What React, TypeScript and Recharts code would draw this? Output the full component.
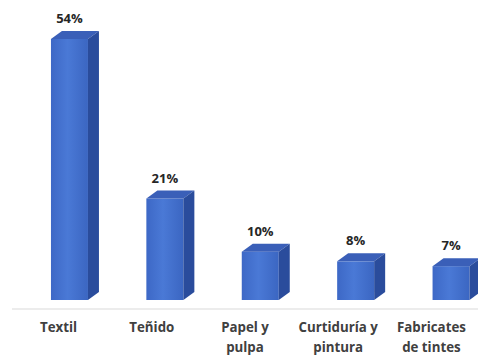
import React from 'react'
import { BarChart, Bar, XAxis, YAxis, LabelList } from 'recharts'

const categories = ['Textil', 'Teñido', 'Papel y\npulpa', 'Curtiduría y\npintura', 'Fabricates\nde tintes']
const shares = [54, 21, 10, 8, 7]

const data = categories.map((name, i) => ({ name, value: shares[i] }))

const FRONT_W = 37
const DEPTH_X = 11
const DEPTH_Y = 8

// bars sit a little to the right of their label, more so further right
const shiftFor = (index: number) => 11 + index * 2.2

function Box3D(props: any) {
  const { x, y, width, height, index } = props
  const cx = x + width / 2 + shiftFor(index)
  const l = cx - FRONT_W / 2
  const r = cx + FRONT_W / 2
  const b = y + height
  return (
    <g>
      <rect x={l} y={y} width={FRONT_W} height={height} fill="url(#frontFace)" />
      <polygon
        points={`${l},${y} ${l + DEPTH_X},${y - DEPTH_Y} ${r + DEPTH_X},${y - DEPTH_Y} ${r},${y}`}
        fill="#3a5fb8"
      />
      <polygon
        points={`${r},${y} ${r + DEPTH_X},${y - DEPTH_Y} ${r + DEPTH_X},${b - DEPTH_Y} ${r},${b}`}
        fill="#2a4c9c"
      />
    </g>
  )
}

function ValueLabel(props: any) {
  const { x, y, width, value, index } = props
  const cx = x + width / 2 + shiftFor(index)
  return (
    <text
      x={cx}
      y={y - 16}
      textAnchor="middle"
      fontSize={13}
      fontWeight={700}
      fill="#262626"
      fontFamily="'Open Sans', sans-serif"
    >
      {`${value}%`}
    </text>
  )
}

function CategoryTick(props: any) {
  const { x, y, payload } = props
  const lines = String(payload.value).split('\n')
  return (
    <text
      x={x}
      y={y + 24}
      textAnchor="middle"
      fontSize={13.3}
      fontWeight={700}
      fill="#404040"
      fontFamily="'Open Sans', sans-serif"
    >
      {lines.map((line, i) => (
        <tspan key={i} x={x} dy={i === 0 ? 0 : 20}>
          {line}
        </tspan>
      ))}
    </text>
  )
}

export default function App() {
  return (
    <div style={{ position: 'absolute', left: 0, top: 0, width: 478, height: 358, background: '#fff' }}>
      <BarChart
        width={478}
        height={358}
        data={data}
        margin={{ top: 10, right: 0, left: 12, bottom: 0 }}
        barCategoryGap="30%"
      >
        <defs>
          <linearGradient id="frontFace" x1="0" y1="0" x2="1" y2="0">
            <stop offset="0%" stopColor="#3d68c6" />
            <stop offset="45%" stopColor="#4a79d6" />
            <stop offset="100%" stopColor="#3b66c2" />
          </linearGradient>
        </defs>
        <XAxis
          dataKey="name"
          tickLine={false}
          axisLine={{ stroke: '#d9d9d9', transform: 'translate(0,9)' }}
          tick={<CategoryTick />}
          height={58}
          interval={0}
        />
        <YAxis hide domain={[0, 60]} />
        <Bar dataKey="value" shape={<Box3D />} isAnimationActive={false}>
          <LabelList dataKey="value" content={<ValueLabel />} />
        </Bar>
      </BarChart>
    </div>
  )
}
